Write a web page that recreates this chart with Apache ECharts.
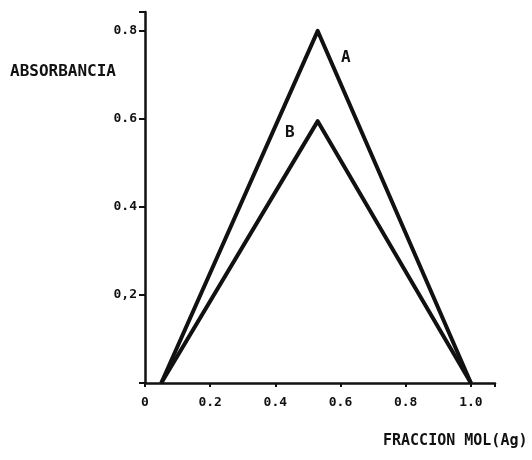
<!DOCTYPE html>
<html>
<head>
<meta charset="utf-8">
<script src="https://cdn.jsdelivr.net/npm/echarts@6/dist/echarts.min.js"></script>
<style>
  html, body { margin: 0; padding: 0; background: #fff; }
  #chart { width: 532px; height: 460px; }
</style>
</head>
<body>
<div id="chart"></div>
<script>
// Mole fraction of Ag (x) vs absorbance for the two series
const fraccionMol = [0.05, 0.53, 1.0];
const serieA = [0, 0.80, 0];
const serieB = [0, 0.595, 0];

// Tick labels as printed on each axis
const xTickValues = [0, 0.2, 0.4, 0.6, 0.8, 1.0];
const xTickLabels = ['0', '0.2', '0.4', '0.6', '0.8', '1.0'];
const yTickValues = [0.2, 0.4, 0.6, 0.8];
const yTickLabels = ['0,2', '0.4', '0.6', '0.8'];

const yTitle = 'ABSORBANCIA';
const xTitle = 'FRACCION MOL(Ag)';
const seriesNames = ['A', 'B'];

const FONT = '"DejaVu Sans Mono", "Liberation Mono", monospace';
const INK = '#111';

function pickLabel(values, labels) {
  return function (v) {
    for (let i = 0; i < values.length; i++) {
      if (Math.abs(v - values[i]) < 1e-6) return labels[i];
    }
    return '';
  };
}

const chart = echarts.init(document.getElementById('chart'), null, { renderer: 'canvas' });

chart.setOption({
  backgroundColor: '#fff',
  animation: false,
  grid: { left: 145, right: 37, top: 12, bottom: 77 },
  xAxis: {
    type: 'value',
    min: 0,
    max: 1.074,
    interval: 0.2,
    splitLine: { show: false },
    axisLine: { lineStyle: { color: INK, width: 2.5 } },
    axisTick: { show: true, length: 4, lineStyle: { color: INK, width: 2 } },
    axisLabel: {
      margin: 13,
      color: INK,
      fontFamily: FONT,
      fontWeight: 'bold',
      fontSize: 13,
      formatter: pickLabel(xTickValues, xTickLabels)
    }
  },
  yAxis: {
    type: 'value',
    min: 0,
    max: 0.843,
    interval: 0.2,
    splitLine: { show: false },
    axisLine: { lineStyle: { color: INK, width: 2.5 } },
    axisTick: { show: true, length: 6, lineStyle: { color: INK, width: 2 } },
    axisLabel: {
      margin: 8,
      color: INK,
      fontFamily: FONT,
      fontWeight: 'bold',
      fontSize: 13,
      formatter: pickLabel(yTickValues, yTickLabels)
    }
  },
  series: [
    {
      name: seriesNames[0],
      type: 'line',
      data: fraccionMol.map((x, i) => [x, serieA[i]]),
      showSymbol: false,
      lineStyle: { color: INK, width: 4, join: 'round' }
    },
    {
      name: seriesNames[1],
      type: 'line',
      data: fraccionMol.map((x, i) => [x, serieB[i]]),
      showSymbol: false,
      lineStyle: { color: INK, width: 4, join: 'round' }
    }
  ],
  graphic: [
    {
      type: 'text', left: 10, top: 64,
      style: { text: yTitle, fill: INK, font: 'bold 16px ' + FONT }
    },
    {
      type: 'text', left: 383, top: 434,
      style: { text: xTitle, fill: INK, font: 'bold 15px ' + FONT }
    },
    {
      type: 'text', left: 341, top: 50,
      style: { text: seriesNames[0], fill: INK, font: 'bold 16px ' + FONT }
    },
    {
      type: 'text', left: 285, top: 125,
      style: { text: seriesNames[1], fill: INK, font: 'bold 16px ' + FONT }
    }
  ]
});
</script>
</body>
</html>
